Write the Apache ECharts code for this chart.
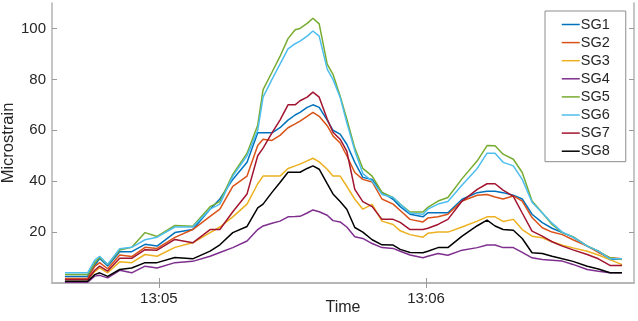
<!DOCTYPE html>
<html>
<head>
<meta charset="utf-8">
<script src="https://cdn.jsdelivr.net/npm/echarts@6/dist/echarts.min.js"></script>
<style>
  html, body { margin: 0; padding: 0; background: #fff; }
  #chart { width: 638px; height: 321px; }
</style>
</head>
<body>
<div id="chart"></div>
<script>
// seconds after 13:04:00
const times = [38.9, 44.0, 45.6, 46.7, 48.5, 51.2, 53.9, 56.9, 59.6, 63.6, 67.6, 71.5, 73.7, 76.6, 79.8, 82.2, 83.4, 85.4, 87.2, 89.0,
  90.6, 91.7, 93.3, 94.6, 96.0, 97.8, 99.1, 100.7, 102.2, 104.0, 105.8, 107.9, 110.1, 112.6, 114.2, 116.4, 119.3, 120.4, 122.7, 124.9,
  128.1, 131.5, 133.7, 135.5, 137.3, 139.6, 141.6, 143.8, 146.1, 148.3, 150.6, 153.0, 156.2, 158.7, 161.3, 164.0];

const sg1 = [2.6, 2.6, 7, 9.6, 6.7, 12.3, 12.3, 15.2, 14.5, 19.8, 21, 29, 33, 40.7, 47.4, 59, 59, 59, 61, 64,
  66, 67, 69, 70, 69, 64, 60, 58.5, 54.5, 47.4, 41.5, 40.7, 35.6, 32.9, 30, 27, 26, 27.6, 27.6, 27.6,
  32.9, 35.5, 36, 36, 35.5, 34.5, 33, 27, 23.7, 21.5, 19.8, 18, 14.5, 12.5, 9.2, 9.4];
const sg2 = [1.8, 1.8, 6.5, 8, 5.6, 11, 10.4, 14, 13.6, 17.9, 21, 26.2, 29, 38, 42, 54, 56.5, 56, 58, 61,
  62.5, 63.6, 65.5, 67, 65.5, 61.8, 57.8, 55, 50, 43.4, 40.7, 39.7, 33, 31, 28.5, 25, 24, 25.5, 26, 27,
  32.2, 34.5, 34.8, 33.8, 33, 34.2, 32.2, 25.7, 21.7, 20, 19, 17, 14.5, 12, 9.9, 9.5];
const sg3 = [1.4, 1.4, 4.5, 5.9, 4, 8.3, 8, 11.2, 10.5, 14, 15.8, 19.8, 22, 26, 31, 39, 42, 42, 42, 45,
  46, 46.7, 48, 49, 47.6, 44.7, 42, 42, 38, 32.9, 29, 30.9, 24.3, 23, 20.5, 19, 18, 19.5, 20, 20,
  22, 24.3, 26, 26, 24.2, 25, 21, 18.4, 17.8, 16.2, 14.8, 13.8, 12.5, 11, 9.2, 7.2];
const sg4 = [0.3, 0.3, 2.7, 3, 2, 5, 4, 6.6, 5.9, 8, 8.5, 10.5, 12, 13.9, 16.5, 21, 22.4, 23.5, 24.3, 26,
  26.1, 26.2, 27.5, 28.7, 28, 26.6, 24.5, 24, 22, 18.2, 17.5, 15.5, 13.9, 13.6, 12.5, 11, 9.9, 10.5, 11.6, 10.9,
  12.9, 13.9, 14.9, 14.9, 13.9, 13.9, 12, 9.9, 9.2, 8.9, 8.6, 7.3, 5.3, 4.6, 4, 4];
const sg5 = [3.3, 3.3, 8, 10, 7.3, 13, 14, 19.8, 18.3, 22.6, 22.3, 30, 32, 42.7, 51, 62, 76, 82.8, 89, 96,
  99.5, 100, 102, 104, 101.8, 86, 82, 73.5, 64.4, 53, 45, 42, 35.6, 33.6, 31, 27.9, 27.9, 29.7, 32.2, 33.6,
  41, 48, 54, 53.9, 50.6, 48.6, 43.4, 32.2, 27.6, 23, 19.8, 18.2, 14.5, 12.5, 9.9, 9.2];
const sg6 = [4, 4, 9, 10.5, 7.3, 13.5, 14, 17, 18, 22, 22, 29, 31, 42, 50, 60, 73, 80, 86, 92,
  94, 95, 97, 99, 97, 84, 80, 73, 63, 52, 43, 40, 34.8, 33.6, 31, 27.5, 27, 29, 31, 32,
  38.5, 45, 51, 51, 47.4, 46, 40.7, 31.7, 27.5, 23.5, 20, 18, 14.5, 12.5, 9.5, 9.5];
const sg7 = [1.4, 1.4, 5, 6.6, 4.7, 9.7, 9.7, 13.1, 12.9, 17.1, 15.8, 21, 21, 28, 35, 50, 53, 59, 64, 70,
  70, 71.6, 73, 75, 73, 64.4, 59.2, 56.5, 51.8, 36.8, 32, 30, 25, 25, 23.8, 21, 21, 21.5, 23, 25,
  32.2, 36.8, 39, 39, 36.5, 34, 27.5, 20.4, 18.4, 16.2, 14.5, 13, 11.2, 9.5, 6.9, 6.9];
const sg8 = [0.7, 0.7, 3.3, 4, 2.6, 5.3, 5.9, 8, 8, 10, 9.5, 12.5, 15, 19.8, 22.2, 29.5, 31, 35.6, 39.5, 43.5,
  43.5, 43.5, 45, 46, 44.7, 39, 35, 32, 29, 21.8, 20, 17, 15, 14.9, 13.2, 12, 11.9, 12.5, 13.9, 13.9,
  18.4, 22.5, 24.7, 22.4, 21, 20.7, 17.5, 11.9, 11.6, 10.5, 9.5, 8.5, 6.6, 5.5, 4, 4];

const names = ["SG1", "SG2", "SG3", "SG4", "SG5", "SG6", "SG7", "SG8"];
const values = [sg1, sg2, sg3, sg4, sg5, sg6, sg7, sg8];
const colors = ["#0072BD", "#D95319", "#EDB120", "#7E2F8E", "#77AC30", "#4DBEEE", "#A2142F", "#000000"];
const xTicks = [60, 120];
const yTicks = [20, 40, 60, 80, 100];

const font = "Liberation Sans, Arial, sans-serif";
const frame = { show: true, lineStyle: { color: "#b3b3b3", width: 1.5 } };
const inTick = (vals) => ({ show: true, inside: true, length: 5, customValues: vals, lineStyle: { color: "#999" } });

//时间格式
const fmtTime = (v) => {
  const m = Math.floor(v / 60);
  return "13:" + String(4 + m).padStart(2, "0");
};

const chart = echarts.init(document.getElementById("chart"));
chart.setOption({
  animation: false,
  textStyle: { fontFamily: font },
  color: colors,
  grid: { left: 52, right: 4, top: 3, bottom: 38, containLabel: false, outerBoundsMode: "none" },
  legend: {
    data: names,
    orient: "vertical",
    left: 545,
    top: 11,
    itemWidth: 18,
    itemHeight: 16,
    itemGap: 3.1,
    padding: [6, 16, 3, 16],
    borderColor: "#8c8c8c",
    borderWidth: 1,
    backgroundColor: "#fff",
    itemStyle: { opacity: 0 },
    lineStyle: { width: 1.5 },
    textStyle: { fontSize: 14.5, color: "#262626", fontFamily: font, padding: [0, 0, 0, -4] },
  },
  xAxis: [
    {
      type: "value",
      min: 36,
      max: 166.7,
      name: "Time",
      nameLocation: "middle",
      nameGap: 17,
      nameMoveOverlap: false,
      nameTextStyle: { fontSize: 16, color: "#262626", fontFamily: font },
      axisLine: frame,
      axisTick: inTick(xTicks),
      axisLabel: { customValues: xTicks, formatter: fmtTime, fontSize: 15, color: "#262626", margin: 8, fontFamily: font },
      splitLine: { show: false },
    },
    {
      type: "value",
      position: "top",
      min: 36,
      max: 166.7,
      axisLine: frame,
      axisTick: inTick(xTicks),
      axisLabel: { show: false },
      splitLine: { show: false },
    },
  ],
  yAxis: [
    {
      type: "value",
      min: 0,
      max: 110,
      name: "Microstrain",
      nameLocation: "middle",
      nameGap: 35,
      nameMoveOverlap: false,
      nameTextStyle: { fontSize: 16.5, color: "#262626", fontFamily: font },
      axisLine: frame,
      axisTick: inTick(yTicks),
      axisLabel: { customValues: yTicks, fontSize: 15, color: "#262626", margin: 6, fontFamily: font },
      splitLine: { show: false },
    },
    {
      type: "value",
      position: "right",
      min: 0,
      max: 110,
      axisLine: frame,
      axisTick: inTick(yTicks),
      axisLabel: { show: false },
      splitLine: { show: false },
    },
  ],
  series: names.map((name, i) => ({
    name,
    type: "line",
    symbol: "none",
    data: times.map((t, j) => [t, values[i][j]]),
    lineStyle: { width: 1.5, color: colors[i] },
    itemStyle: { color: colors[i] },
  })),
});
</script>
</body>
</html>
